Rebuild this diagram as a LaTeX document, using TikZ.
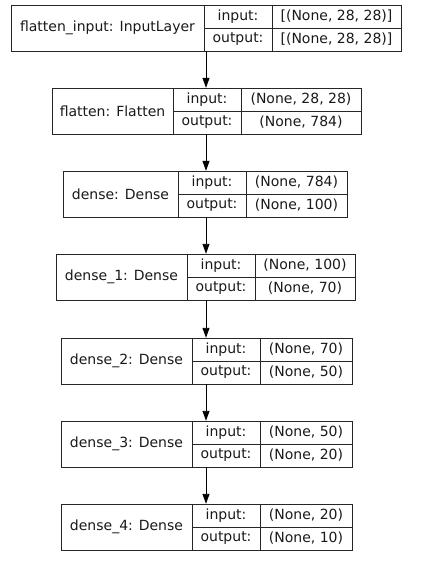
\documentclass[tikz,border=0pt]{standalone}
\usepackage{fontspec}
\setmainfont{DejaVu Sans}
\usetikzlibrary{arrows.meta}
\tikzstyle{none}=[inner sep=0pt, minimum width=0pt, minimum height=46pt]
\tikzstyle{cell}=[draw=black!85, line width=0.9pt, inner sep=0pt, minimum height=23pt, text=black!90, font=\fontsize{14}{16}\selectfont]
\tikzstyle{namecell}=[cell, minimum height=46pt]
\tikzstyle{labelcell}=[cell, minimum width=68pt]
\tikzstyle{simple}=[-{Triangle[length=10pt,width=7pt]}, draw=black, line width=0.9pt]

\begin{document}
\begin{tikzpicture}[x=1pt, y=-1pt]
  \useasboundingbox (0,0) rectangle (427,577);
  % flatten_input
  \node [style=none] (0) at (206, 28) {};
  \node [style=namecell, minimum width=193pt] (1) at (107.5, 28) {flatten\_input: InputLayer};
  \node [style=labelcell] (2) at (238, 16.5) {input:};
  \node [style=cell, minimum width=129pt] (3) at (336.5, 16.5) {[(None, 28, 28)]};
  \node [style=labelcell] (4) at (238, 39.5) {output:};
  \node [style=cell, minimum width=129pt] (5) at (336.5, 39.5) {[(None, 28, 28)]};
  % flatten
  \node [style=none] (6) at (206, 111) {};
  \node [style=namecell, minimum width=121pt] (7) at (112.5, 111) {flatten: Flatten};
  \node [style=labelcell] (8) at (207, 99.5) {input:};
  \node [style=cell, minimum width=120pt] (9) at (301, 99.5) {(None, 28, 28)};
  \node [style=labelcell] (10) at (207, 122.5) {output:};
  \node [style=cell, minimum width=120pt] (11) at (301, 122.5) {(None, 784)};
  % dense
  \node [style=none] (12) at (206, 194) {};
  \node [style=namecell, minimum width=115pt] (13) at (120.5, 194) {dense: Dense};
  \node [style=labelcell] (14) at (212, 182.5) {input:};
  \node [style=cell, minimum width=101pt] (15) at (296.5, 182.5) {(None, 784)};
  \node [style=labelcell] (16) at (212, 205.5) {output:};
  \node [style=cell, minimum width=101pt] (17) at (296.5, 205.5) {(None, 100)};
  % dense_1
  \node [style=none] (18) at (206, 277) {};
  \node [style=namecell, minimum width=131pt] (19) at (121.5, 277) {dense\_1: Dense};
  \node [style=labelcell] (20) at (221, 265.5) {input:};
  \node [style=cell, minimum width=100pt] (21) at (305, 265.5) {(None, 100)};
  \node [style=labelcell] (22) at (221, 288.5) {output:};
  \node [style=cell, minimum width=100pt] (23) at (305, 288.5) {(None, 70)};
  % dense_2
  \node [style=none] (24) at (206, 361) {};
  \node [style=namecell, minimum width=131pt] (25) at (126.5, 361) {dense\_2: Dense};
  \node [style=labelcell] (26) at (226, 349.5) {input:};
  \node [style=cell, minimum width=92pt] (27) at (306, 349.5) {(None, 70)};
  \node [style=labelcell] (28) at (226, 372.5) {output:};
  \node [style=cell, minimum width=92pt] (29) at (306, 372.5) {(None, 50)};
  % dense_3
  \node [style=none] (30) at (206, 444) {};
  \node [style=namecell, minimum width=131pt] (31) at (126.5, 444) {dense\_3: Dense};
  \node [style=labelcell] (32) at (226, 432.5) {input:};
  \node [style=cell, minimum width=92pt] (33) at (306, 432.5) {(None, 50)};
  \node [style=labelcell] (34) at (226, 455.5) {output:};
  \node [style=cell, minimum width=92pt] (35) at (306, 455.5) {(None, 20)};
  % dense_4
  \node [style=none] (36) at (206, 527) {};
  \node [style=namecell, minimum width=131pt] (37) at (126.5, 527) {dense\_4: Dense};
  \node [style=labelcell] (38) at (226, 515.5) {input:};
  \node [style=cell, minimum width=92pt] (39) at (306, 515.5) {(None, 20)};
  \node [style=labelcell] (40) at (226, 538.5) {output:};
  \node [style=cell, minimum width=92pt] (41) at (306, 538.5) {(None, 10)};
  \draw [style=simple] (0) to (6);
  \draw [style=simple] (6) to (12);
  \draw [style=simple] (12) to (18);
  \draw [style=simple] (18) to (24);
  \draw [style=simple] (24) to (30);
  \draw [style=simple] (30) to (36);
\end{tikzpicture}
\end{document}
